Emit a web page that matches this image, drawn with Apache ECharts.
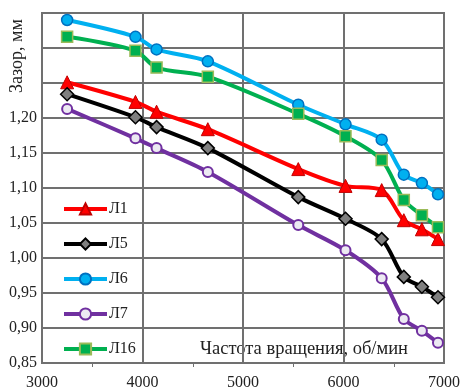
<!DOCTYPE html>
<html>
<head>
<meta charset="utf-8">
<script src="https://cdn.jsdelivr.net/npm/echarts@6/dist/echarts.min.js"></script>
<style>html,body{margin:0;padding:0;background:#fff;}#c{width:463px;height:391px;}</style>
</head>
<body>
<div id="c"></div>
<script>
const rpm = [3250, 3930, 4140, 4650, 5550, 6020, 6380, 6600, 6780, 6940];
const L1  = [1.251, 1.223, 1.209, 1.184, 1.127, 1.103, 1.097, 1.054, 1.041, 1.027];
const L5  = [1.234, 1.201, 1.187, 1.157, 1.087, 1.056, 1.027, 0.973, 0.959, 0.944];
const L6  = [1.340, 1.316, 1.298, 1.281, 1.219, 1.191, 1.169, 1.119, 1.107, 1.091];
const L7  = [1.213, 1.171, 1.157, 1.123, 1.047, 1.011, 0.971, 0.913, 0.896, 0.879];
const L16 = [1.316, 1.296, 1.272, 1.259, 1.206, 1.174, 1.140, 1.083, 1.061, 1.044];
const names = ['Л1', 'Л5', 'Л6', 'Л7', 'Л16'];
const xName = 'Частота вращения, об/мин';
const yName = 'Зазор, мм';

const FONT = '"Liberation Serif", "DejaVu Serif", serif';
const pair = v => rpm.map((x, i) => [x, v[i]]);

function mk(name, data, color, symbol, size, fill, border, bw) {
  return {
    name, type: 'line', data: pair(data), smooth: 0.3,
    symbol, symbolSize: size,
    lineStyle: { color, width: 4 },
    itemStyle: { color: fill, borderColor: border, borderWidth: bw },
    emphasis: { disabled: true }
  };
}

const chart = echarts.init(document.getElementById('c'));
chart.setOption({
  animation: false,
  backgroundColor: '#fff',
  grid: { left: 42, right: 17, top: 13, bottom: 28, show: true, borderColor: '#707070', borderWidth: 2 },
  xAxis: {
    type: 'value', min: 3000, max: 7000, interval: 1000,
    axisLine: { show: false },
    axisTick: { show: false },
    minorTick: { show: true, splitNumber: 2, length: 4, lineStyle: { color: '#707070' } },
    splitLine: { show: true, lineStyle: { color: '#707070', width: 2 } },
    axisLabel: { fontFamily: FONT, fontSize: 16, color: '#222', margin: 12, formatter: v => String(v) }
  },
  yAxis: {
    type: 'value', min: 0.85, max: 1.35, interval: 0.05,
    axisLine: { show: false },
    axisTick: { show: false },
    splitLine: { show: true, lineStyle: { color: '#707070', width: 2 } },
    axisLabel: {
      fontFamily: FONT, fontSize: 16, color: '#222', margin: 5,
      formatter: v => (Math.round(v * 100) > 120 ? '' : (Math.round(v * 100) / 100).toFixed(2).replace('.', ','))
    }
  },
  legend: {
    orient: 'vertical', left: 57, top: 196, itemGap: 19,
    itemWidth: 43, itemHeight: 14,
    lineStyle: { width: 4 },
    textStyle: { fontFamily: FONT, fontSize: 16, color: '#222', padding: [0, 0, 0, -3] },
    data: names
  },
  graphic: [
    { type: 'text', left: 200, top: 340, silent: true,
      style: { text: xName, font: '18.5px ' + FONT, fill: '#222' } },
    { type: 'text', x: 17, y: 56, rotation: Math.PI / 2, silent: true,
      style: { text: yName, font: '18px ' + FONT, fill: '#222', align: 'center', verticalAlign: 'middle' } }
  ],
  series: [
    mk(names[0], L1, '#FF0000', 'triangle', 13, '#FF0000', '#C00000', 1),
    mk(names[1], L5, '#000000', 'diamond', 13, '#7F7F7F', '#000000', 1.5),
    mk(names[2], L6, '#00B0F0', 'circle', 11, '#00B0F0', '#0070C0', 1.5),
    mk(names[3], L7, '#7030A0', 'circle', 10, '#ECEAF2', '#7030A0', 2),
    mk(names[4], L16, '#00B050', 'rect', 11, '#00B050', '#9BBB59', 1.5)
  ]
});
</script>
</body>
</html>
